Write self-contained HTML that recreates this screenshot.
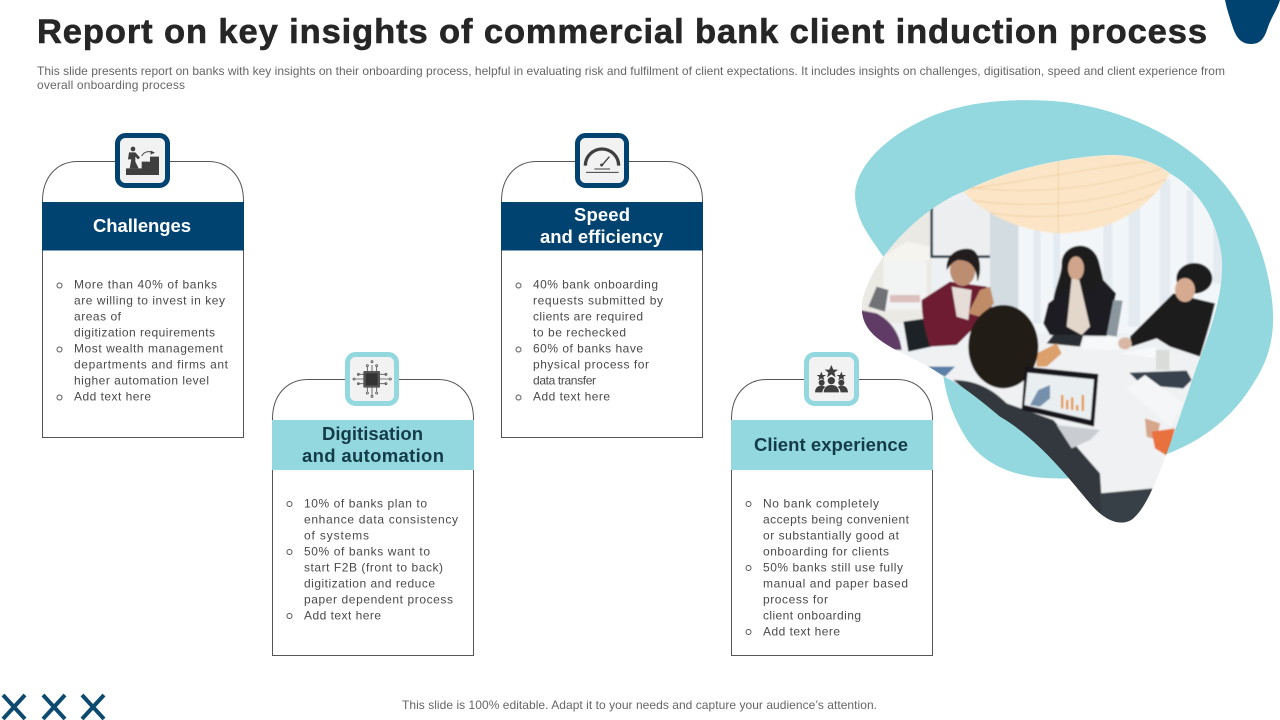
<!DOCTYPE html>
<html><head><meta charset="utf-8"><style>
html,body{margin:0;padding:0;background:#fff;width:1280px;height:720px;overflow:hidden}
svg{display:block}
text{font-family:"Liberation Sans",sans-serif}
.t{font-size:12px;fill:#4a4a4a}
.s{font-size:12px;fill:#666}
.hw{font-size:18.5px;font-weight:bold;fill:#fff}
.hd{font-size:18.5px;font-weight:bold;fill:#143c48}
.card{fill:#fff;stroke:#555;stroke-width:1}
.b{fill:none;stroke:#555;stroke-width:1}
</style></head><body>
<svg width="1280" height="720" viewBox="0 0 1280 720" xmlns="http://www.w3.org/2000/svg">
<defs>
<clipPath id="pc"><path d="M65,650 C70,590 110,530 130,500 C190,420 280,340 370,305 C500,240 650,205 800,195 C880,190 950,220 990,250 C1060,290 1130,370 1145,500 C1155,600 1110,730 1070,830 C1040,920 1010,1010 980,1090 C950,1170 920,1250 880,1285 C850,1310 800,1300 750,1240 C690,1170 600,1050 480,980 C420,930 360,880 310,860 C260,820 200,800 150,770 C100,740 65,710 65,650 Z"/></clipPath>
<clipPath id="lc"><path d="M370,305 C500,240 650,205 800,195 C880,190 950,220 990,250 C950,320 850,430 650,430 C530,420 430,370 370,305Z"/></clipPath>
<filter id="bl" x="-5%" y="-5%" width="110%" height="110%"><feGaussianBlur stdDeviation="2.500"/></filter>
</defs>

<path d="M1225,0 H1280 C1277,10 1271,18 1268,27 C1265,36 1262,44 1251,44 C1240,44 1236,36 1233,28 C1230,18 1227,10 1225,0Z" fill="#004370"/>

<text x="37" y="43" font-size="34.500" font-weight="bold" fill="#262626" stroke="#262626" stroke-width="0.600" textLength="1170">Report on key insights of commercial bank client induction process</text>
<text class="s" x="37" y="75" textLength="1188">This slide presents report on banks with key insights on their onboarding process, helpful in evaluating risk and fulfilment of  client expectations. It includes insights on challenges, digitisation, speed and client experience from</text>
<text class="s" x="37" y="89" textLength="148">overall onboarding process</text>

<!-- blob and photo -->
<g transform="translate(840,90) scale(0.33333)">
<path fill="#93D8DF" d="M45,310 C50,230 130,150 230,100 C340,40 480,25 620,32 C790,40 960,110 1070,200 C1180,290 1260,420 1290,590 C1310,700 1300,790 1240,880 C1180,980 1090,1050 985,1090 C900,1130 780,1170 650,1165 C520,1165 420,1120 370,1030 C335,970 320,920 310,860 L200,600 L130,500 C90,440 45,390 45,310Z"/>
<g clip-path="url(#pc)">
<g filter="url(#bl)">
<rect x="0" y="150" width="1200" height="1200" fill="#eef1f3"/>
<rect x="50" y="350" width="225" height="350" fill="#ebe9e4"/>
<rect x="130" y="510" width="130" height="150" fill="#f2f3f3"/>
<rect x="270" y="330" width="185" height="180" fill="#eceef0"/>
<path d="M275,350 V500 H450" fill="none" stroke="#2a3d4a" stroke-width="8"/>
<rect x="450" y="360" width="88" height="340" fill="#d3dce1"/>
<rect x="535" y="230" width="620" height="500" fill="#f3f6f9"/>
<g fill="#e3eaf0"><rect x="580" y="400" width="22" height="300"/><rect x="640" y="400" width="20" height="300"/><rect x="790" y="400" width="26" height="300"/><rect x="865" y="350" width="35" height="360"/><rect x="960" y="270" width="30" height="420"/><rect x="1040" y="300" width="20" height="330"/><rect x="1120" y="380" width="30" height="200"/></g>
<path d="M370,305 C500,240 650,205 800,195 C880,190 950,220 990,250 C950,320 850,430 650,430 C530,420 430,370 370,305Z" fill="#fbe5c6"/>
<g clip-path="url(#lc)" fill="none" stroke="#ecc795" stroke-width="2"><path d="M370,290 C600,320 800,290 1000,225"/><path d="M390,330 C600,360 800,340 1000,260"/><path d="M430,365 C600,395 800,380 970,300"/><path d="M370,300 C600,265 800,225 1000,205"/><path d="M655,200 V430"/></g>
<path d="M130,500 L200,455 L270,470 L270,510 L135,515Z" fill="#f6f4ef"/>
<path d="M110,590 L145,600 L135,665 L85,650Z" fill="#6f7274"/>
<rect x="150" y="615" width="90" height="22" fill="#dcc0bd"/>
<path d="M60,660 L110,670 C150,690 180,730 185,780 L120,780 L60,730Z" fill="#5f3a66"/>
<path d="M190,695 L260,685 L275,770 L205,785Z" fill="#1f2326"/>
<path d="M225,790 L600,745 L1080,800 L1050,950 L1000,1300 L750,1240 L480,980 L310,860Z" fill="#f0f1f2"/>
<path d="M250,830 L345,830 L315,860Z" fill="#5a7fa8"/>
<path d="M245,630 L330,575 L440,590 L455,650 L395,720 L350,765 L270,770 C255,720 245,680 245,630Z" fill="#6e1e32"/>
<path d="M335,590 L395,600 L385,690 L350,680Z" fill="#e6dcd8"/>
<path d="M385,670 L420,600 L450,590 L462,640 L420,680Z" fill="#c08c68"/>
<ellipse cx="368" cy="540" rx="38" ry="48" fill="#bd8d72"/>
<path d="M320,540 C315,490 360,470 395,478 C425,490 425,550 412,575 C410,530 390,510 355,510 C335,515 330,530 320,540Z" fill="#201a1a"/>
<path d="M665,520 C665,460 760,440 778,520 C790,570 800,590 780,640 L640,680 C630,610 665,570 665,520Z" fill="#1c1a1e"/>
<path d="M625,640 L690,590 L730,620 L790,570 L828,610 L800,738 L630,735 L610,700Z" fill="#1d1e22"/>
<ellipse cx="708" cy="535" rx="24" ry="36" fill="#cfa68c"/>
<path d="M695,565 L718,570 L750,710 L725,735 L680,710Z" fill="#e3d6ca"/>
<path d="M820,630 L848,632 L830,740 L800,735Z" fill="#8b979f"/>
<path d="M640,735 L730,735 L720,770 L620,760Z" fill="#2c2f33"/>
<path d="M730,745 L830,740 L835,780 L725,778Z" fill="#f7f8f9"/>
<path d="M870,740 L960,650 L1000,610 L1125,640 L1110,700 L1080,800 L990,770 L950,745 L875,770Z" fill="#1c1c1f"/>
<ellipse cx="1063" cy="565" rx="54" ry="46" fill="#1b1a1c"/>
<ellipse cx="1035" cy="600" rx="30" ry="36" fill="#d6aa90"/>
<ellipse cx="855" cy="760" rx="20" ry="18" fill="#d8b8a4"/>
<path d="M840,790 L950,770 L945,805 Z" fill="#f7f8f9"/>
<rect x="948" y="780" width="40" height="60" fill="#d9dcd8"/>
<path d="M868,848 L1040,842 L1055,870 L1030,895 L905,885Z" fill="#394350"/>
<path d="M860,895 L915,855 L1030,940 L990,1010 Z" fill="#f5f6f8"/>
<path d="M590,790 L650,760 L665,790 L620,830 L590,830Z" fill="#dca06c"/>
<path d="M340,870 C420,870 470,910 500,940 L640,990 L780,1150 L790,1310 L750,1310 L650,1170 L480,1000 Z" fill="#33383e"/>
<ellipse cx="490" cy="770" rx="105" ry="125" fill="#211b19"/>
<path d="M555,830 L775,852 L762,1010 L545,960Z" fill="#16181b"/>
<path d="M563,848 L762,868 L752,990 L553,945Z" fill="#e9eef0"/>
<path d="M570,945 L595,900 L630,885 L630,925 L600,950Z" fill="#7590ad"/>
<g fill="#e6953c"><rect x="663" y="915" width="7" height="40"/><rect x="678" y="930" width="7" height="28"/><rect x="693" y="922" width="7" height="38"/><rect x="708" y="945" width="7" height="17"/><rect x="725" y="915" width="7" height="48"/></g>
<path d="M650,1005 L780,1020 L750,1050 L695,1075 Z" fill="#c9ccd0"/>
<path d="M915,985 L960,1000 L950,1050 L920,1040Z" fill="#d6a58a"/>
<path d="M935,1025 L1005,1015 L985,1100 L945,1075Z" fill="#e8713c"/>
<path d="M780,1210 L940,1195 L900,1310 L790,1310Z" fill="#394046"/>
</g>
</g>
</g>

<!-- Card 1 -->
<path class="card" d="M42.5,437.5 V201 C42.5,178 56,161.5 78,161.5 H208 C230,161.5 243.5,178 243.5,201 V437.5Z"/>
<rect x="42" y="202" width="202" height="48.500" fill="#004370"/>
<text class="hw" x="93" y="232" textLength="98">Challenges</text>
<g class="t" transform="translate(0,0.7)">
<text x="74" y="288" textLength="143">More than 40% of banks</text>
<text x="74" y="304" textLength="151">are willing to invest in key</text>
<text x="74" y="320" textLength="47">areas of</text>
<text x="74" y="336" textLength="141">digitization requirements</text>
<text x="74" y="352" textLength="149">Most wealth management</text>
<text x="74" y="368" textLength="154">departments and firms ant</text>
<text x="74" y="384" textLength="135">higher automation level</text>
<text x="74" y="400" textLength="77">Add text here</text>
</g>
<g class="b"><circle cx="59.500" cy="285.500" r="2.500"/><circle cx="59.500" cy="349.500" r="2.500"/><circle cx="59.500" cy="397.500" r="2.500"/></g>

<!-- Card 2 -->
<path class="card" d="M501.5,437.5 V201 C501.5,178 515,161.5 537,161.5 H667 C689,161.5 702.5,178 702.5,201 V437.5Z"/>
<rect x="501" y="202" width="202" height="48.500" fill="#004370"/>
<text class="hw" x="574" y="221" textLength="56">Speed</text>
<text class="hw" x="540" y="243" textLength="123">and efficiency</text>
<g class="t" transform="translate(0,0.7)">
<text x="533" y="288" textLength="125">40% bank onboarding</text>
<text x="533" y="304" textLength="130">requests submitted by</text>
<text x="533" y="320" textLength="110">clients are required</text>
<text x="533" y="336" textLength="93">to be rechecked</text>
<text x="533" y="352" textLength="110">60% of banks have</text>
<text x="533" y="368" textLength="116">physical process for</text>
<text x="533" y="384" textLength="63">data transfer</text>
<text x="533" y="400" textLength="77">Add text here</text>
</g>
<g class="b"><circle cx="518.500" cy="285.500" r="2.500"/><circle cx="518.500" cy="349.500" r="2.500"/><circle cx="518.500" cy="397.500" r="2.500"/></g>

<!-- Card 3 -->
<path class="card" d="M272.5,655.5 V419 C272.5,396 286,379.5 308,379.5 H438 C460,379.5 473.5,396 473.5,419 V655.5Z"/>
<rect x="272" y="420" width="202" height="50" fill="#93D8DF"/>
<text class="hd" x="322" y="440" textLength="101">Digitisation</text>
<text class="hd" x="302" y="462" textLength="142">and automation</text>
<g class="t" transform="translate(0,0.7)">
<text x="304" y="507" textLength="123">10% of banks plan to</text>
<text x="304" y="523" textLength="154">enhance data consistency</text>
<text x="304" y="539" textLength="65">of systems</text>
<text x="304" y="555" textLength="126">50% of banks want to</text>
<text x="304" y="571" textLength="139">start F2B (front to back)</text>
<text x="304" y="587" textLength="131">digitization and reduce</text>
<text x="304" y="603" textLength="149">paper dependent process</text>
<text x="304" y="619" textLength="77">Add text here</text>
</g>
<g class="b"><circle cx="289.500" cy="504" r="2.500"/><circle cx="289.500" cy="552" r="2.500"/><circle cx="289.500" cy="616" r="2.500"/></g>

<!-- Card 4 -->
<path class="card" d="M731.5,655.5 V419 C731.5,396 745,379.5 767,379.5 H897 C919,379.5 932.5,396 932.5,419 V655.5Z"/>
<rect x="731" y="420" width="202" height="50" fill="#93D8DF"/>
<text class="hd" x="754" y="451" textLength="154">Client experience</text>
<g class="t" transform="translate(0,0.7)">
<text x="763" y="507" textLength="116">No bank completely</text>
<text x="763" y="523" textLength="146">accepts being convenient</text>
<text x="763" y="539" textLength="136">or substantially good at</text>
<text x="763" y="555" textLength="126">onboarding for clients</text>
<text x="763" y="571" textLength="140">50% banks still use fully</text>
<text x="763" y="587" textLength="145">manual and paper based</text>
<text x="763" y="603" textLength="65">process for</text>
<text x="763" y="619" textLength="98">client onboarding</text>
<text x="763" y="635" textLength="77">Add text here</text>
</g>
<g class="b"><circle cx="748.500" cy="504" r="2.500"/><circle cx="748.500" cy="568" r="2.500"/><circle cx="748.500" cy="632" r="2.500"/></g>

<!-- Icon boxes -->
<rect x="117.500" y="135.500" width="50" height="50" rx="8" fill="#f2f2f2" stroke="#004370" stroke-width="5"/>
<rect x="577.500" y="135.500" width="49" height="50" rx="8" fill="#f2f2f2" stroke="#004370" stroke-width="5"/>
<rect x="347.500" y="354.500" width="49" height="49" rx="8" fill="#f2f2f2" stroke="#93D8DF" stroke-width="5"/>
<rect x="806.500" y="354.500" width="50" height="49" rx="8" fill="#f2f2f2" stroke="#93D8DF" stroke-width="5"/>

<!-- Icon 1 -->
<g transform="translate(30,120) scale(0.33333)" fill="#3f3f3f">
<circle cx="309" cy="87" r="7"/>
<path d="M297,97 L316,97 L330,113 L324,118 L316,110 L316,125 L326,145 L299,145 L304,118 L294,118Z"/>
<path d="M288,145 H335 V125 H360 V110 H387 V165 H288Z"/>
<path d="M335,108 C342,95 355,92 370,98" fill="none" stroke="#3f3f3f" stroke-width="3"/>
<path d="M362,92 L375,98 L362,104Z"/>
</g>
<!-- Icon 2 -->
<g transform="translate(500,125) scale(0.33333)" fill="none" stroke="#3f3f3f">
<path d="M256,122 A50,50 0 0 1 356,122" stroke-width="10"/>
<path d="M305,122 L328,95" stroke-width="4"/>
<circle cx="305" cy="120" r="4" fill="#3f3f3f"/>
<path d="M258,142 H356" stroke-width="3"/>
<path d="M283,132 H330" stroke-width="3"/>
</g>
<!-- Icon 3 -->
<g transform="translate(330,345) scale(0.33333)">
<g fill="none" stroke="#555" stroke-width="2.500">
<path d="M126,60 V85 M112,65 V85 M140,65 V85 M126,122 V150 M112,122 V140 M140,122 V140 M75,102 H105 M85,88 H105 M85,116 H105 M148,102 H178 M148,88 H168 M148,116 H168"/>
<circle cx="126" cy="50" r="3"/><circle cx="112" cy="62" r="3"/><circle cx="140" cy="62" r="3"/><circle cx="126" cy="154" r="3"/><circle cx="112" cy="144" r="3"/><circle cx="140" cy="144" r="3"/><circle cx="72" cy="102" r="3"/><circle cx="181" cy="102" r="3"/><circle cx="85" cy="88" r="3"/><circle cx="85" cy="116" r="3"/><circle cx="168" cy="88" r="3"/><circle cx="168" cy="116" r="3"/>
</g>
<rect x="100" y="78" width="50" height="50" rx="3" fill="#555"/>
<rect x="107" y="85" width="36" height="36" fill="#333"/>
</g>
<!-- Icon 4 -->
<g transform="translate(790,345) scale(0.33333)" fill="#3f3f3f">
<path d="M124,60 L130,74 L144,74 L133,83 L137,97 L124,88 L111,97 L115,83 L104,74 L118,74Z"/>
<path d="M94,80 L98,90 L108,90 L100,96 L103,106 L94,100 L85,106 L88,96 L80,90 L90,90Z"/>
<path d="M154,80 L158,90 L168,90 L160,96 L163,106 L154,100 L145,106 L148,96 L140,90 L150,90Z"/>
<circle cx="124" cy="107" r="11"/><circle cx="95" cy="113" r="9"/><circle cx="154" cy="113" r="9"/>
<path d="M75,142 C76,126 85,122 95,122 C100,122 103,124 106,126 C100,130 98,136 97,142Z"/>
<path d="M174,142 C173,126 164,122 154,122 C149,122 146,124 143,126 C149,130 151,136 152,142Z"/>
<path d="M101,142 C102,126 112,120 124,120 C136,120 146,126 147,142Z"/>
</g>

<!-- X marks -->
<g stroke="#0d4a70" stroke-width="4" fill="none">
<path d="M3,695 L25,719 M25,695 L3,719"/>
<path d="M43,695 L65,719 M65,695 L43,719"/>
<path d="M82,695 L104,719 M104,695 L82,719"/>
</g>
<text x="402" y="709" font-size="12" fill="#666" textLength="475">This slide is 100% editable. Adapt it to your needs and capture your audience’s attention.</text>
</svg>
</body></html>
